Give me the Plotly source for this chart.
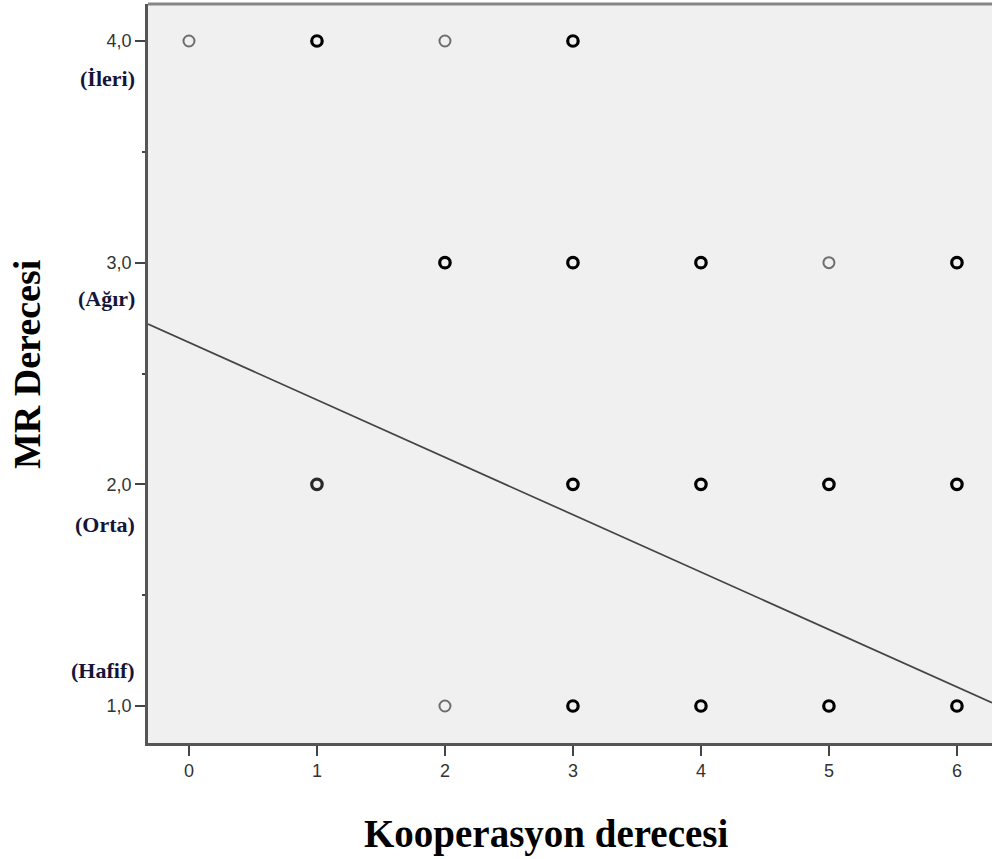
import plotly.graph_objects as go

# Data
kooperasyon = [0, 1, 2, 3,
               2, 3, 4, 5, 6,
               1, 3, 4, 5, 6,
               2, 3, 4, 5, 6]
mr_derecesi = [4, 4, 4, 4,
               3, 3, 3, 3, 3,
               2, 2, 2, 2, 2,
               1, 1, 1, 1, 1]
# overlap (number of cases at the same point; darker circle = more cases)
overlap = [1, 3, 1, 4,
           3, 5, 4, 1, 3,
           2, 4, 4, 5, 3,
           1, 4, 5, 6, 4]

# fitted line
fit_intercept = 2.64
fit_slope = -0.259

y_tick_vals = [1, 2, 3, 4]
y_tick_text = ["1,0", "2,0", "3,0", "4,0"]
x_tick_vals = [0, 1, 2, 3, 4, 5, 6]
category_vals = [4, 3, 2, 1]
category_text = ["(İleri)", "(Ağır)", "(Orta)", "(Hafif)"]
category_shift = [-37, -36, -40, 35]

x_range = [-0.32, 6.274]
y_range = [0.833, 4.167]

def shade(n):
    if n <= 1:
        return "#6e6e6e"
    if n == 2:
        return "#2a2a2a"
    return "#000000"

def ring(n):
    return 2.0 if n <= 1 else 3.2

fig = go.Figure()

fig.add_trace(go.Scatter(
    x=x_range,
    y=[fit_intercept + fit_slope * v for v in x_range],
    mode="lines",
    line=dict(color="#444444", width=1.7),
    hoverinfo="skip",
    showlegend=False,
))

fig.add_trace(go.Scatter(
    x=kooperasyon, y=mr_derecesi,
    mode="markers",
    marker=dict(symbol="circle-open", size=[11 if n <= 1 else 10.5 for n in overlap],
                color=[shade(n) for n in overlap],
                opacity=1,
                line=dict(width=[ring(n) for n in overlap],
                          color=[shade(n) for n in overlap])),
    showlegend=False,
))

tick_font = dict(family="Liberation Sans, Arial", size=18, color="#333333")

fig.update_layout(
    width=992, height=859,
    margin=dict(l=148, r=0, t=4, b=116),
    paper_bgcolor="white",
    plot_bgcolor="#f0f0f0",
    xaxis=dict(range=x_range, tickvals=x_tick_vals, ticks="outside",
               ticklen=10, tickwidth=2, tickcolor="#444444",
               showgrid=False, zeroline=False,
               showline=True, linecolor="#555555", linewidth=2.5,
               tickfont=tick_font),
    yaxis=dict(range=y_range, tickvals=y_tick_vals, ticktext=y_tick_text,
               ticks="outside", ticklen=10, tickwidth=2, tickcolor="#444444",
               showgrid=False, zeroline=False,
               showline=True, linecolor="#555555", linewidth=2.5,
               tickfont=tick_font,
               minor=dict(tickvals=[1.5, 2.5, 3.5], ticks="outside",
                          ticklen=3, tickwidth=2, tickcolor="#444444",
                          showgrid=False)),
)

# top border of the plot frame
fig.add_shape(type="line", xref="paper", yref="paper", x0=0, x1=1, y0=1, y1=1,
              line=dict(color="#858585", width=3))

serif = "Liberation Serif, Times New Roman"

for v, t, s in zip(category_vals, category_text, category_shift):
    fig.add_annotation(x=0, xref="paper", y=v, yref="y", text="<b>" + t + "</b>",
                       showarrow=False, xanchor="right", yanchor="middle",
                       xshift=-11, yshift=s,
                       font=dict(family=serif, size=22, color="#15153a"))

fig.add_annotation(x=(27 - 148) / 844, xref="paper",
                   y=(859 - 116 - 364) / 739, yref="paper",
                   text="<b>MR Derecesi</b>", textangle=-90, showarrow=False,
                   xanchor="center", yanchor="middle",
                   font=dict(family=serif, size=38, color="black"))

fig.add_annotation(x=(546 - 148) / 844, xref="paper",
                   y=-(834 - 743) / 739, yref="paper",
                   text="<b>Kooperasyon derecesi</b>", showarrow=False,
                   xanchor="center", yanchor="middle",
                   font=dict(family=serif, size=39, color="black"))

fig.write_html("out.html", config={"displayModeBar": False},
               post_script="document.body.style.margin='0';document.body.style.padding='0';")
